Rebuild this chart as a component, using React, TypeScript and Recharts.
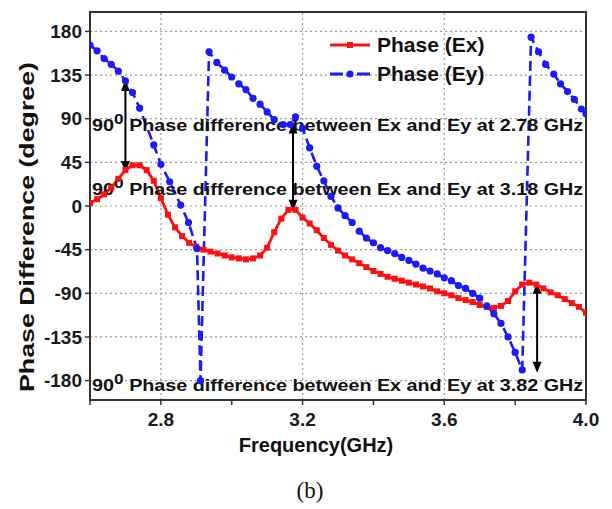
import React from 'react';
import {
  LineChart, Line, XAxis, YAxis, CartesianGrid, ReferenceLine, ReferenceArea,
  ReferenceDot, Legend, Label,
} from 'recharts';

// ---- data ----
const exFreq = [
  2.60, 2.62, 2.64, 2.66, 2.68, 2.70, 2.72, 2.74, 2.76, 2.78,
  2.80, 2.82, 2.84, 2.86, 2.88, 2.90, 2.92, 2.94, 2.96, 2.98,
  3.00, 3.02, 3.04, 3.06, 3.08, 3.10, 3.12, 3.14, 3.16, 3.18,
  3.20, 3.22, 3.24, 3.26, 3.28, 3.30, 3.32, 3.34, 3.36, 3.38,
  3.40, 3.42, 3.44, 3.46, 3.48, 3.50, 3.52, 3.54, 3.56, 3.58,
  3.60, 3.62, 3.64, 3.66, 3.68, 3.70, 3.72, 3.74, 3.76, 3.78,
  3.80, 3.82, 3.84, 3.86, 3.88, 3.90, 3.92, 3.94, 3.96, 3.98, 4.00,
];
const exPhase = [
  3, 7, 12, 19, 28, 37, 42, 42, 37, 26,
  8, -9, -22, -31, -38, -42, -45, -47, -49, -51,
  -53, -54, -55, -54, -51, -43, -27, -13, -4, -4,
  -12, -18, -25, -33, -40, -46, -51, -55, -59, -63,
  -67, -70, -73, -75, -77, -79, -81, -83, -85, -88,
  -90, -92, -95, -97, -99, -102, -104, -105, -103, -98,
  -88, -81, -79, -81, -85, -89, -92, -96, -100, -104, -110,
];

const eyFreq = [
  2.60, 2.62, 2.64, 2.66, 2.68, 2.70, 2.72, 2.74, 2.78, 2.80,
  2.825, 2.856, 2.878, 2.902, 2.912, 2.936, 2.958, 2.98, 3.00, 3.02,
  3.04, 3.06, 3.08, 3.10, 3.12, 3.145, 3.165, 3.18, 3.20, 3.22,
  3.24, 3.26, 3.28, 3.30, 3.32, 3.34, 3.36, 3.38, 3.40, 3.42,
  3.44, 3.46, 3.48, 3.50, 3.52, 3.54, 3.56, 3.58, 3.60, 3.62,
  3.64, 3.66, 3.68, 3.70, 3.72, 3.74, 3.76, 3.78, 3.80, 3.82,
  3.845, 3.866, 3.886, 3.909, 3.928, 3.948, 3.967, 3.987, 4.00,
];
const eyPhase = [
  166, 160, 152, 146, 139, 129, 117, 101, 63, 43,
  25, 1, -17, -44, -180, 159, 148, 140, 133, 126,
  120, 111, 105, 97, 89, 84, 84, 92, 80, 60,
  41, 26, 10, -2, -10, -17, -26, -33, -38, -43,
  -46, -49, -53, -56, -60, -64, -67, -70, -74, -77,
  -82, -85, -90, -95, -103, -111, -121, -135, -151, -169,
  174, 159, 146, 136, 126, 118, 110, 100, 95,
];

const xTicks = [2.6, 2.8, 3.0, 3.2, 3.4, 3.6, 3.8, 4.0];
const xLabeled = [2.8, 3.2, 3.6, 4.0];
const yTicks = [-180, -135, -90, -45, 0, 45, 90, 135, 180];
const xGridValues = [2.8, 3.2, 3.6];

const arrowFreqs = [2.70, 3.173, 3.862];
const arrowTops = [130, 86, -79];
const arrowBottoms = [35, -5, -172];

const noteGHz = ['2.78', '3.18', '3.82'];
const noteY = [77, 11, -191];
const noteX = 2.606;

const seriesNames = ['Phase (Ex)', 'Phase (Ey)'];
const xTitle = 'Frequency(GHz)';
const yTitle = 'Phase Difference (degree)';
const caption = '(b)';

const exData = exFreq.map((f, i) => ({ f, v: exPhase[i] }));
const eyData = eyFreq.map((f, i) => ({ f, v: eyPhase[i] }));

const FONT = '"Liberation Sans", Arial, Helvetica, sans-serif';
const RED = '#ff1010';
const BLUE = '#1a1aff';

const DoubleArrow = (props: any) => {
  const { x1, y1, x2, y2 } = props;
  if (x1 == null) return null;
  const x = x1;
  const top = Math.min(y1, y2);
  const bot = Math.max(y1, y2);
  const hl = 11;
  const hw = 4.5;
  return (
    <g>
      <line x1={x} y1={top + hl - 1} x2={x} y2={bot - hl + 1} stroke="#000" strokeWidth={2} />
      <polygon points={`${x},${top} ${x - hw},${top + hl} ${x + hw},${top + hl}`} fill="#000" />
      <polygon points={`${x},${bot} ${x - hw},${bot - hl} ${x + hw},${bot - hl}`} fill="#000" />
    </g>
  );
};

const makeNote = (ghz: string) => (props: any) => {
  const { cx, cy } = props;
  if (cx == null) return null;
  return (
    <text
      x={cx}
      y={cy}
      fontFamily={FONT}
      fontWeight="bold"
      fontSize={16}
      fill="#111"
      textLength={491}
      lengthAdjust="spacingAndGlyphs"
    >
      <tspan>90</tspan>
      <tspan dy={-7} fontSize={14}>0</tspan>
      <tspan dy={7}>{` Phase difference between Ex and Ey at ${ghz} GHz`}</tspan>
    </text>
  );
};

const SquareDot = (p: any) => {
  if (p.cx == null || p.cy == null) return <g key={`sq-${p.index}`} />;
  return <rect key={`sq-${p.index}`} x={p.cx - 3} y={p.cy - 3} width={6} height={6} fill={RED} />;
};

const LegendBox = () => (
  <svg width={170} height={60} style={{ display: 'block' }}>
    <line x1={5} y1={15} x2={45} y2={15} stroke={RED} strokeWidth={3} />
    <rect x={22} y={12} width={6} height={6} fill={RED} />
    <text x={52} y={22} fontFamily={FONT} fontWeight="bold" fontSize={21} fill="#111">{seriesNames[0]}</text>
    <line x1={5} y1={44} x2={45} y2={44} stroke={BLUE} strokeWidth={3} strokeDasharray="13 14" />
    <circle cx={25} cy={44} r={3.6} fill={BLUE} />
    <text x={52} y={51} fontFamily={FONT} fontWeight="bold" fontSize={21} fill="#111">{seriesNames[1]}</text>
  </svg>
);

const XTitle = () => (
  <g>
    <text x={316} y={452} textAnchor="middle" fontFamily={FONT} fontWeight="bold" fontSize={20} fill="#111">
      {xTitle}
    </text>
    <text x={310} y={498} textAnchor="middle" fontFamily='"Liberation Serif", "Times New Roman", serif' fontSize={23} fill="#111">
      {caption}
    </text>
  </g>
);

const YTitle = () => (
  <text
    x={0}
    y={0}
    transform="translate(34, 227) rotate(-90)"
    textAnchor="middle"
    fontFamily={FONT}
    fontWeight="bold"
    fontSize={20}
    fill="#111"
    textLength={330}
    lengthAdjust="spacingAndGlyphs"
  >
    {yTitle}
  </text>
);

export default function App() {
  return (
    <div style={{ position: 'absolute', left: 0, top: 0, width: 612, height: 509, background: '#fff', fontFamily: FONT }}>
      <LineChart width={612} height={509} margin={{ top: 12, right: 26, left: 0, bottom: 0 }}>
        <CartesianGrid vertical={false} stroke="#9a9a9a" strokeDasharray="2 3" strokeWidth={1.2} />
        {xGridValues.map((v) => (
          <ReferenceLine key={`g${v}`} x={v} stroke="#9a9a9a" strokeDasharray="2 3" strokeWidth={1.2} />
        ))}
        <XAxis
          type="number"
          dataKey="f"
          domain={[2.6, 4.0]}
          ticks={xTicks}
          interval={0}
          allowDataOverflow
          height={109}
          tickSize={5}
          tickMargin={8}
          axisLine={{ stroke: '#333', strokeWidth: 2 }}
          tickLine={{ stroke: '#333', strokeWidth: 1.5 }}
          tick={{ fontFamily: FONT, fontWeight: 'bold', fontSize: 19, fill: '#1a1a1a' }}
          tickFormatter={(v: number) => (xLabeled.some((t) => Math.abs(t - v) < 1e-6) ? v.toFixed(1) : '')}
          label={<Label content={() => <XTitle />} />}
        />
        <YAxis
          type="number"
          domain={[-200, 200]}
          ticks={yTicks}
          interval={0}
          allowDataOverflow
          width={90}
          tickSize={5}
          tickMargin={3}
          axisLine={{ stroke: '#333', strokeWidth: 2 }}
          tickLine={{ stroke: '#333', strokeWidth: 1.5 }}
          tick={{ fontFamily: FONT, fontWeight: 'bold', fontSize: 19, fill: '#1a1a1a' }}
          label={<Label content={() => <YTitle />} />}
        />
        <ReferenceArea x1={2.6} x2={4.0} y1={-200} y2={200} fill="none" stroke="#333" strokeWidth={2} />
        <Line
          data={exData}
          dataKey="v"
          name={seriesNames[0]}
          stroke={RED}
          strokeWidth={2.8}
          dot={SquareDot}
          activeDot={false}
          isAnimationActive={false}
        />
        <Line
          data={eyData}
          dataKey="v"
          name={seriesNames[1]}
          stroke={BLUE}
          strokeWidth={2.6}
          strokeDasharray="10 5"
          dot={{ r: 3.6, fill: BLUE, stroke: BLUE, strokeWidth: 0, strokeDasharray: 'none' }}
          activeDot={false}
          isAnimationActive={false}
        />
        {arrowFreqs.map((f, i) => (
          <ReferenceLine
            key={`a${i}`}
            segment={[{ x: f, y: arrowTops[i] }, { x: f, y: arrowBottoms[i] }]}
            shape={DoubleArrow}
            ifOverflow="visible"
          />
        ))}
        {noteGHz.map((g, i) => (
          <ReferenceDot key={`n${i}`} x={noteX} y={noteY[i]} r={0} shape={makeNote(g)} ifOverflow="visible" />
        ))}
        <Legend
          layout="vertical"
          align="center"
          verticalAlign="middle"
          content={() => <LegendBox />}
          wrapperStyle={{ position: 'absolute', left: 325, top: 30, width: 170, height: 60 }}
        />
      </LineChart>
    </div>
  );
}
